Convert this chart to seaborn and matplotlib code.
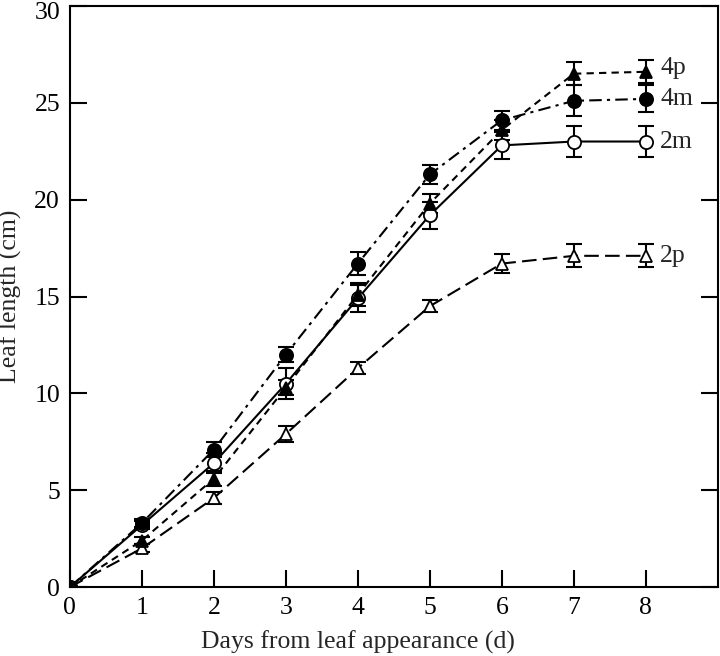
import numpy as np
import pandas as pd
import matplotlib
matplotlib.use("Agg")
import matplotlib.pyplot as plt
import matplotlib.transforms as mtransforms
import seaborn as sns

days = [0, 1, 2, 3, 4, 5, 6, 7, 8]
len_4m = [0.0, 3.3, 7.1, 12.0, 16.7, 21.3, 24.1, 25.1, 25.2]
err_4m = [0.0, 0.2, 0.4, 0.4, 0.6, 0.5, 0.5, 0.8, 0.7]
len_4p = [0.0, 2.4, 5.6, 10.3, 15.1, 19.8, 23.6, 26.5, 26.6]
err_4p = [0.0, 0.2, 0.4, 0.4, 0.6, 0.5, 0.5, 0.6, 0.6]
len_2m = [0.0, 3.2, 6.4, 10.5, 14.9, 19.2, 22.8, 23.0, 23.0]
err_2m = [0.0, 0.2, 0.5, 0.8, 0.7, 0.7, 0.7, 0.8, 0.8]
len_2p = [0.0, 2.0, 4.6, 7.9, 11.3, 14.5, 16.7, 17.1, 17.1]
err_2p = [0.0, 0.2, 0.3, 0.4, 0.3, 0.3, 0.5, 0.6, 0.6]
series_names = ["4p", "4m", "2m", "2p"]

sns.set_theme(style="white")
plt.rcParams["font.family"] = ["Liberation Serif", "DejaVu Serif"]

FS = 18.5
fig = plt.figure(figsize=(7.2, 6.56), dpi=100)
ax = fig.add_axes([0.097, 0.105, 0.900, 0.886])

styles = {
    "4m": dict(y=len_4m, e=err_4m, marker="o", mfc="black", ls=(0, (6, 2.5, 1.5, 2.5))),
    "4p": dict(y=len_4p, e=err_4p, marker="^", mfc="black", ls=(0, (3.5, 2.5))),
    "2m": dict(y=len_2m, e=err_2m, marker="o", mfc="white", ls="-"),
    "2p": dict(y=len_2p, e=err_2p, marker="^", mfc="white", ls=(0, (7, 3))),
}

for name in ["2p", "2m", "4p", "4m"]:
    s = styles[name]
    df = pd.DataFrame({"day": days, "length": s["y"]})
    ax.errorbar(days, s["y"], yerr=s["e"], fmt="none", ecolor="black",
                elinewidth=1.5, capsize=5.5, capthick=1.5, zorder=2)
    sns.lineplot(data=df, x="day", y="length", ax=ax, color="black",
                 linewidth=1.5, linestyle=s["ls"], marker=s["marker"],
                 markersize=9.5 if s["marker"] == "o" else 9,
                 markerfacecolor=s["mfc"], markeredgecolor="black",
                 markeredgewidth=1.3, zorder=3)

for name, yy in [("4p", 26.8), ("4m", 25.2), ("2m", 23.0), ("2p", 17.1)]:
    ax.text(8.2, yy, name, fontsize=FS, va="center", ha="left")

ax.set_xlim(0, 9)
ax.set_ylim(0, 30)
ax.set_xticks(range(0, 9))
ax.set_yticks(range(0, 31, 5))
ax.tick_params(axis="both", direction="in", length=12, width=1.5,
               labelsize=FS, colors="black", pad=4)
ax.tick_params(axis="y", right=True, left=True, pad=7)
ax.tick_params(axis="x", bottom=True, top=False, pad=7)
for sp in ax.spines.values():
    sp.set_color("black")
    sp.set_linewidth(1.5)
ax.set_xlabel("Days from leaf appearance (d)", fontsize=FS)
ax.xaxis.set_label_coords(4.0 / 9.0, -0.074)
ax.set_ylabel("Leaf length (cm)", fontsize=FS)
ax.yaxis.set_label_coords(-0.074, 0.5)
ax.grid(False)

fig.canvas.draw()
top_lbl = ax.get_yticklabels()[-1]
top_lbl.set_transform(top_lbl.get_transform() +
                      mtransforms.ScaledTranslation(0, -5 / 100, fig.dpi_scale_trans))

fig.savefig("out.png", dpi=100)
